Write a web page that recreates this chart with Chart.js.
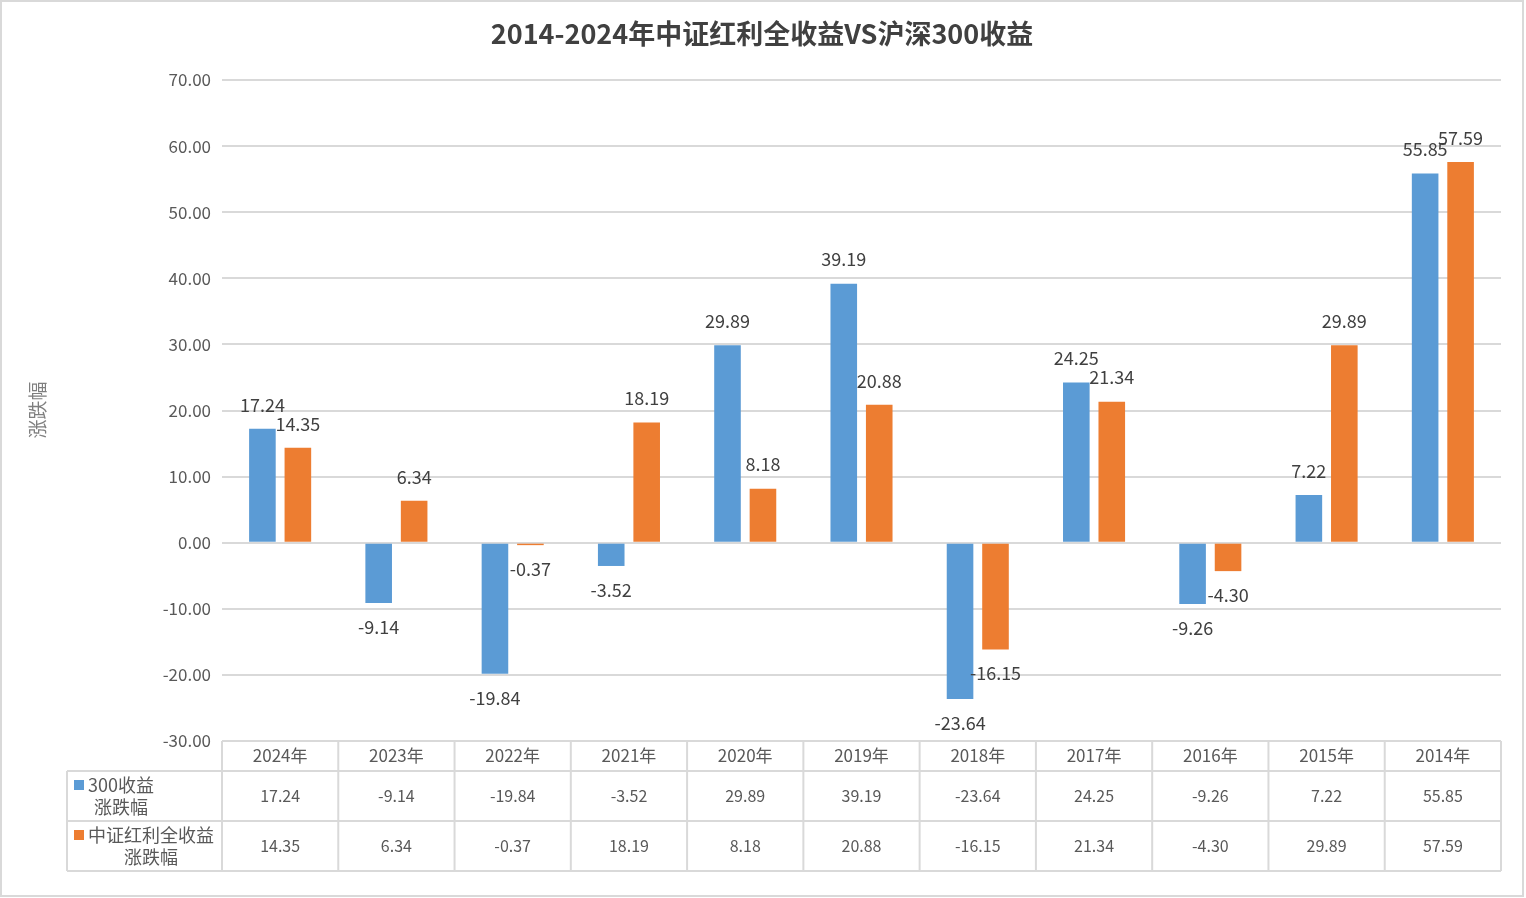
<!DOCTYPE html>
<html>
<head>
<meta charset="utf-8">
<script src="https://cdn.jsdelivr.net/npm/chart.js@4.4.1/dist/chart.umd.min.js"></script>
<style>
  html, body { margin: 0; padding: 0; background: #fff; }
  canvas { display: block; }
</style>
</head>
<body>
<canvas id="myChart" width="1526" height="898"></canvas>
<script>
const years = ['2024年', '2023年', '2022年', '2021年', '2020年', '2019年', '2018年', '2017年', '2016年', '2015年', '2014年'];
const hs300 = [17.24, -9.14, -19.84, -3.52, 29.89, 39.19, -23.64, 24.25, -9.26, 7.22, 55.85];
const dividend = [14.35, 6.34, -0.37, 18.19, 8.18, 20.88, -16.15, 21.34, -4.30, 29.89, 57.59];
const seriesNames = [['300收益', '涨跌幅'], ['中证红利全收益', '涨跌幅']];
const titleText = '2014-2024年中证红利全收益VS沪深300收益';
const yTitle = '涨跌幅';

const FONT = '"Noto Sans CJK SC", "Noto Sans", sans-serif';
const colors = ['#5b9bd5', '#ed7d31'];
const lineColor = '#d9d9d9';

const decorPlugin = {
    id: 'decor',
    afterDraw(chart) {
        const c = chart.ctx;
        const area = chart.chartArea;
        const x = chart.scales.x;

        c.save();

        // title
        c.fillStyle = '#404040';
        c.font = 'bold 27px ' + FONT;
        c.textAlign = 'center';
        c.textBaseline = 'middle';
        c.fillText(titleText, 762, 34);

        // y axis title
        c.save();
        c.translate(38, 410);
        c.rotate(-Math.PI / 2);
        c.fillStyle = '#7f7f7f';
        c.font = '19px ' + FONT;
        c.fillText(yTitle, 0, 0);
        c.restore();

        // value labels
        c.fillStyle = '#404040';
        c.font = '18px ' + FONT;
        chart.data.datasets.forEach((ds, d) => {
            chart.getDatasetMeta(d).data.forEach((bar, i) => {
                const v = ds.data[i];
                const y = v >= 0 ? bar.y - 24 : bar.y + 24;
                c.fillText(v.toFixed(2), bar.x, y);
            });
        });

        // data table
        const top = area.bottom;
        const rows = [top, top + 30, top + 80, top + 130];
        const left = 67;
        c.strokeStyle = lineColor;
        c.lineWidth = 2;
        c.beginPath();
        c.moveTo(area.left, rows[0]); c.lineTo(area.right, rows[0]);
        for (let r = 1; r < rows.length; r++) {
            c.moveTo(left, rows[r]); c.lineTo(area.right, rows[r]);
        }
        c.moveTo(left, rows[1]); c.lineTo(left, rows[3]);
        const half = (x.getPixelForTick(1) - x.getPixelForTick(0)) / 2;
        for (let i = 0; i < years.length; i++) {
            const b = x.getPixelForTick(i) - half;
            c.moveTo(b, rows[0]); c.lineTo(b, rows[3]);
        }
        c.moveTo(area.right, rows[0]); c.lineTo(area.right, rows[3]);
        c.stroke();

        c.fillStyle = '#595959';
        c.font = '17px ' + FONT;
        years.forEach((yr, i) => c.fillText(yr, x.getPixelForTick(i), rows[0] + 15));

        c.font = '16px ' + FONT;
        chart.data.datasets.forEach((ds, d) => {
            const cy = (rows[d + 1] + rows[d + 2]) / 2;
            ds.data.forEach((v, i) => c.fillText(v.toFixed(2), x.getPixelForTick(i), cy));

            // legend cell
            c.font = '18px ' + FONT;
            const w1 = c.measureText(seriesNames[d][0]).width;
            const tx = 88;
            const mid = tx + w1 / 2;
            c.fillStyle = colors[d];
            c.fillRect(74, cy - 16, 10, 10);
            c.fillStyle = '#595959';
            c.fillText(seriesNames[d][0], mid, cy - 11);
            c.fillText(seriesNames[d][1], mid, cy + 11);
            c.font = '16px ' + FONT;
        });

        // outer frame
        c.strokeStyle = lineColor;
        c.lineWidth = 2;
        c.strokeRect(1, 1, 1522, 895);

        c.restore();
    }
};

const ctx = document.getElementById('myChart');
const chart = new Chart(ctx, {
    type: 'bar',
    data: {
        labels: years,
        datasets: [
            { label: seriesNames[0].join(''), data: hs300, backgroundColor: colors[0] },
            { label: seriesNames[1].join(''), data: dividend, backgroundColor: colors[1] }
        ]
    },
    options: {
        responsive: false,
        animation: false,
        devicePixelRatio: 1,
        categoryPercentage: 0.61,
        barPercentage: 0.75,
        layout: { padding: { top: 80, bottom: 157, left: 0, right: 25 } },
        plugins: {
            legend: { display: false },
            title: { display: false },
            tooltip: { enabled: false }
        },
        scales: {
            x: { display: false },
            y: {
                min: -30,
                max: 70,
                afterFit(scale) { scale.width = 222; },
                ticks: {
                    stepSize: 10,
                    padding: 11,
                    color: '#595959',
                    font: { family: FONT, size: 17 },
                    callback: v => v.toFixed(2)
                },
                grid: { color: lineColor, lineWidth: 2, drawTicks: false },
                border: { display: false }
            }
        }
    },
    plugins: [decorPlugin]
});
</script>
</body>
</html>
